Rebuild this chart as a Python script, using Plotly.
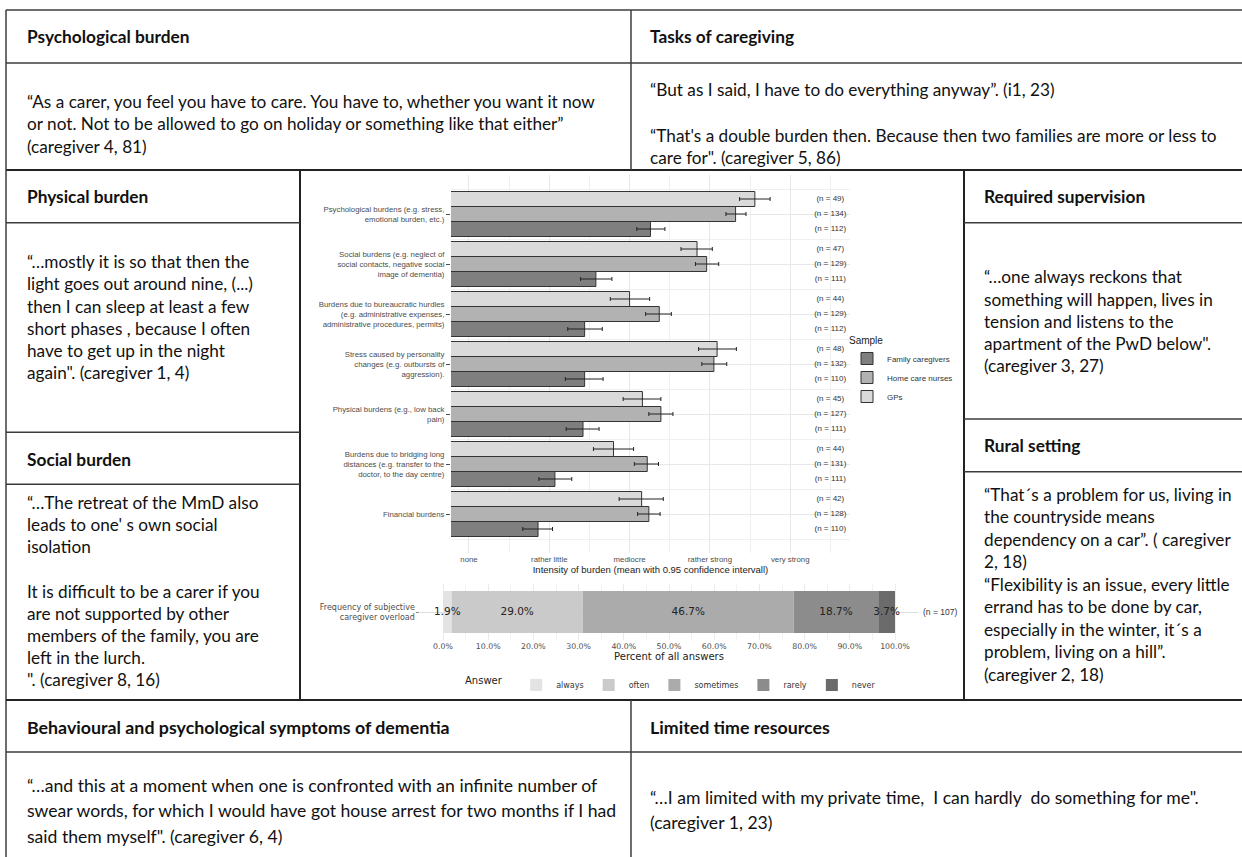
import plotly.graph_objects as go
import numpy as np

W, H = 1242, 857

# ---------------- data: intensity of burden ----------------
categories = [
    "Psychological burdens (e.g. stress,<br>emotional burden, etc.)",
    "Social burdens (e.g. neglect of<br>social contacts, negative social<br>image of dementia)",
    "Burdens due to bureaucratic hurdles<br>(e.g. administrative expenses,<br>administrative procedures, permits)",
    "Stress caused by personality<br>changes (e.g. outbursts of<br>aggression).",
    "Physical burdens (e.g., low back<br>pain)",
    "Burdens due to bridging long<br>distances (e.g. transfer to the<br>doctor, to the day centre)",
    "Financial burdens",
]
intensity_ticks = ["none", "rather little", "mediocre", "rather strong", "very strong"]

gp_mean = [4.56, 3.84, 3.00, 4.09, 3.16, 2.80, 3.15]
gp_lo = [4.37, 3.64, 2.76, 3.86, 2.92, 2.55, 2.87]
gp_hi = [4.75, 4.03, 3.25, 4.33, 3.39, 3.05, 3.42]
gp_n = [49, 47, 44, 48, 45, 44, 42]

hcn_mean = [4.32, 3.96, 3.37, 4.05, 3.39, 3.22, 3.24]
hcn_lo = [4.20, 3.82, 3.20, 3.90, 3.24, 3.06, 3.10]
hcn_hi = [4.45, 4.11, 3.52, 4.21, 3.54, 3.36, 3.38]
hcn_n = [134, 129, 129, 132, 127, 131, 128]

fc_mean = [3.26, 2.58, 2.44, 2.44, 2.42, 2.07, 1.86]
fc_lo = [3.09, 2.39, 2.23, 2.20, 2.21, 1.87, 1.67]
fc_hi = [3.44, 2.78, 2.66, 2.67, 2.62, 2.28, 2.04]
fc_n = [112, 111, 112, 110, 111, 111, 110]

# ---------------- data: caregiver overload ----------------
overload_label = "Frequency of subjective<br>caregiver overload"
answers = ["always", "often", "sometimes", "rarely", "never"]
answer_pct = [1.9, 29.0, 46.7, 18.7, 3.7]
overload_n = 107
pct_ticks = [0, 10, 20, 30, 40, 50, 60, 70, 80, 90, 100]

# ---------------- quotes ----------------
head_psych = "Psychological burden"
quote_psych = ["“As a carer, you feel you have to care. You have to, whether you want it now",
               "or not. Not to be allowed to go on holiday or something like that either”",
               "(caregiver 4, 81)"]
head_tasks = "Tasks of caregiving"
quote_tasks = ["“But as I said, I have to do everything anyway”. (i1, 23)", "",
               "“That's a double burden then. Because then two families are more or less to",
               "care for\". (caregiver 5, 86)"]
head_phys = "Physical burden"
quote_phys = ["“…mostly it is so that then the", "light goes out around nine, (...)",
              "then I can sleep at least a few", "short phases , because I often",
              "have to get up in the night", "again\". (caregiver 1, 4)"]
head_social = "Social burden"
quote_social = ["“…The retreat of the MmD also", "leads to one' s own social", "isolation", "",
                "It is difficult to be a carer if you", "are not supported by other",
                "members of the family, you are", "left in the lurch.", "\". (caregiver 8, 16)"]
head_super = "Required supervision"
quote_super = ["“…one always reckons that", "something will happen, lives in",
               "tension and listens to the", "apartment of the PwD below\".", "(caregiver 3, 27)"]
head_rural = "Rural setting"
quote_rural = ["“That´s a problem for us, living in", "the countryside means",
               "dependency on a car”. ( caregiver", "2, 18)",
               "“Flexibility is an issue, every little", "errand has to be done by car,",
               "especially in the winter, it´s a", "problem, living on a hill”.", "(caregiver 2, 18)"]
head_bpsd = "Behavioural and psychological symptoms of dementia"
quote_bpsd = ["“…and this at a moment when one is confronted with an infinite number of",
              "swear words, for which I would have got house arrest for two months if I had",
              "said them myself\". (caregiver 6, 4)"]
head_time = "Limited time resources"
quote_time = ["“…I am limited with my private time,  I can hardly  do something for me\".",
              "(caregiver 1, 23)"]


def X(px):
    return px / W


def Y(py):
    return 1 - py / H


GP_COL, HCN_COL, FC_COL = "#dadada", "#b2b2b2", "#7f7f7f"
ans_cols = ["#e3e3e3", "#cacaca", "#ababab", "#8c8c8c", "#6b6b6b"]
GGF = "Liberation Sans"
DJF = "DejaVu Sans"
QF = "Lato"
TICKC = "#4d4d4d"

fig = go.Figure()
ypos = np.arange(len(categories))

for name, mean, lo, hi, col in [
    ("GPs", gp_mean, gp_lo, gp_hi, GP_COL),
    ("Home care nurses", hcn_mean, hcn_lo, hcn_hi, HCN_COL),
    ("Family caregivers", fc_mean, fc_lo, fc_hi, FC_COL),
]:
    m = np.array(mean)
    fig.add_trace(go.Bar(
        y=ypos, x=m, orientation="h", name=name,
        marker=dict(color=col, line=dict(color="#333333", width=1)),
        error_x=dict(type="data", symmetric=False, array=np.array(hi) - m,
                     arrayminus=m - np.array(lo), color="#222222", thickness=1, width=2),
        xaxis="x", yaxis="y", legend="legend", cliponaxis=True,
    ))

for ns, off in [(gp_n, -0.3), (hcn_n, 0.0), (fc_n, 0.3)]:
    fig.add_trace(go.Scatter(
        x=[5.5] * len(ns), y=ypos + off, mode="text",
        text=[f"(n = {n})" for n in ns], textposition="middle center",
        textfont=dict(family=GGF, size=8, color="#333333"),
        showlegend=False, hoverinfo="skip", xaxis="x", yaxis="y",
    ))

# stacked bar (overlaid in one offset group, stacked through cumulative bases)
pct = np.array(answer_pct)
bases = np.concatenate([[0.0], np.cumsum(pct)[:-1]])
for a, p, b, c in zip(answers, pct, bases, ans_cols):
    fig.add_trace(go.Bar(
        y=[overload_label], x=[p], base=[b], orientation="h", name=a,
        offsetgroup="overload",
        marker=dict(color=c, line=dict(width=0)),
        xaxis="x2", yaxis="y2", legend="legend2",
    ))

fig.add_trace(go.Scatter(
    x=bases + pct / 2, y=[overload_label] * len(pct), mode="text",
    text=[f"{p:.1f}%" for p in pct], textposition="middle center",
    textfont=dict(family=DJF, size=10.5, color="#222222"),
    showlegend=False, hoverinfo="skip", xaxis="x2", yaxis="y2", cliponaxis=False,
))

shapes = []


def hline(y, x0, x1, w=1.5, c="#3c3c3c"):
    shapes.append(dict(type="line", xref="paper", yref="paper", x0=X(x0), x1=X(x1),
                       y0=Y(y), y1=Y(y), line=dict(color=c, width=w)))


def vline(x, y0, y1, w=1.5, c="#3c3c3c"):
    shapes.append(dict(type="line", xref="paper", yref="paper", x0=X(x), x1=X(x),
                       y0=Y(y0), y1=Y(y1), line=dict(color=c, width=w)))


hline(10, 6, 1242)
hline(63, 6, 1242)
hline(170, 6, 1242, w=2, c="#222")
vline(6, 10, 857)
vline(631, 10, 170)
vline(300, 170, 700, w=2, c="#222")
vline(964, 170, 700, w=2, c="#222")
hline(222.7, 6, 300)
hline(432.3, 6, 300)
hline(484.3, 6, 300)
hline(222.7, 964, 1242)
hline(419, 964, 1242)
hline(471.7, 964, 1242)
hline(700, 6, 1242, w=2, c="#222")
hline(752, 6, 1242)
vline(631, 700, 857)

annotations = []


def head(txt, x, y, size=17.3):
    annotations.append(dict(text=f"<b>{txt}</b>", x=X(x), y=Y(y), xref="paper", yref="paper",
                            xanchor="left", yanchor="middle", showarrow=False,
                            font=dict(family=QF, size=size, color="#111111")))


def quote(lines, x, y0, dy, size=17.2):
    for i, ln in enumerate(lines):
        if not ln:
            continue
        annotations.append(dict(text=ln, x=X(x), y=Y(y0 + i * dy), xref="paper", yref="paper",
                                xanchor="left", yanchor="middle", showarrow=False,
                                font=dict(family=QF, size=size, color="#111111")))


head(head_psych, 25, 36)
quote(quote_psych, 25, 101, 23)
head(head_tasks, 648, 36)
quote(quote_tasks, 648, 90, 22.5)
head(head_phys, 25, 196.7)
quote(quote_phys, 25, 261.7, 22.2)
head(head_social, 25, 459)
quote(quote_social, 25, 502.3, 22.2)
head(head_super, 982, 196.7)
quote(quote_super, 982, 276.7, 22.3)
head(head_rural, 982, 446)
quote(quote_rural, 982, 494, 22.5)
head(head_bpsd, 25, 727, size=17.8)
quote(quote_bpsd, 25, 785, 25.5, size=17.6)
head(head_time, 648, 727, size=17.8)
quote(quote_time, 648, 797, 25.5, size=17.6)

# n label to the right of the overload panel (x2 spans -5..105, label sits at 110)
annotations.append(dict(text=f"(n = {overload_n})", x=(110 + 5) / 110, y=0.5,
                        xref="x2 domain", yref="y2 domain",
                        xanchor="center", yanchor="middle", showarrow=False,
                        font=dict(family=GGF, size=8.5, color="#333333")))

fig.update_layout(
    width=W, height=H, margin=dict(l=0, r=0, t=0, b=0),
    paper_bgcolor="white", plot_bgcolor="white",
    barmode="group", bargap=0.1, bargroupgap=0,
    showlegend=True,
    shapes=shapes, annotations=annotations,
    xaxis=dict(domain=[X(451), X(850)], range=[0.776, 5.745],
               tickvals=[1, 2, 3, 4, 5], ticktext=intensity_ticks,
               tickfont=dict(family=GGF, size=7.8, color=TICKC),
               showgrid=True, gridcolor="#e8e8e8", gridwidth=1, zeroline=False,
               showline=False, ticks="",
               minor=dict(tickvals=[1.5, 2.5, 3.5, 4.5, 5.5], showgrid=True,
                          gridcolor="#f0f0f0", gridwidth=0.7, ticks=""),
               title=dict(text="Intensity of burden (mean with 0.95 confidence intervall)",
                          font=dict(family=GGF, size=9.5, color="#222222"), standoff=1),
               anchor="y"),
    yaxis=dict(domain=[Y(553), Y(175)], range=[6.78, -0.78],
               tickvals=list(ypos), ticktext=categories,
               tickfont=dict(family=GGF, size=7.8, color=TICKC),
               showgrid=True, gridcolor="#e8e8e8", gridwidth=1, zeroline=False,
               ticks="outside", ticklen=4, tickcolor=TICKC, tickwidth=1,
               minor=dict(tickvals=[-0.5, 0.5, 1.5, 2.5, 3.5, 4.5, 5.5, 6.5], showgrid=True,
                          gridcolor="#f0f0f0", gridwidth=0.7, ticks=""),
               anchor="x"),
    xaxis2=dict(domain=[X(420.4), X(917.6)], range=[-5, 105],
                tickvals=pct_ticks, ticktext=[f"{t:.1f}%" for t in pct_ticks],
                tickfont=dict(family=DJF, size=7.8, color=TICKC),
                showgrid=True, gridcolor="#ebebeb", gridwidth=1, zeroline=False, ticks="",
                minor=dict(dtick=10, tick0=5, showgrid=True, gridcolor="#f3f3f3", gridwidth=0.7),
                title=dict(text="Percent of all answers",
                           font=dict(family=DJF, size=10, color="#222222"), standoff=2),
                anchor="y2"),
    yaxis2=dict(domain=[Y(640), Y(584)], range=[-0.6, 0.6], type="category",
                tickfont=dict(family=DJF, size=8, color=TICKC),
                showgrid=True, gridcolor="#dddddd", gridwidth=1, zeroline=False,
                ticks="outside", ticklen=3, tickcolor="#888888",
                anchor="x2"),
    legend=dict(x=X(847), y=Y(331), xanchor="left", yanchor="top",
                traceorder="reversed", bgcolor="rgba(0,0,0,0)",
                title=dict(text="Sample", font=dict(family=GGF, size=10, color="#222222")),
                font=dict(family=GGF, size=8, color="#333333"),
                tracegroupgap=0, itemwidth=30),
    legend2=dict(x=X(463), y=Y(685), xanchor="left", yanchor="middle",
                 orientation="h", bgcolor="rgba(0,0,0,0)",
                 title=dict(text="Answer  ", side="left",
                            font=dict(family=DJF, size=10, color="#222222")),
                 font=dict(family=DJF, size=8, color="#333333"), itemwidth=30),
)

fig.write_html("out.html", config={"displayModeBar": False},
               post_script="document.body.style.margin='0';")
